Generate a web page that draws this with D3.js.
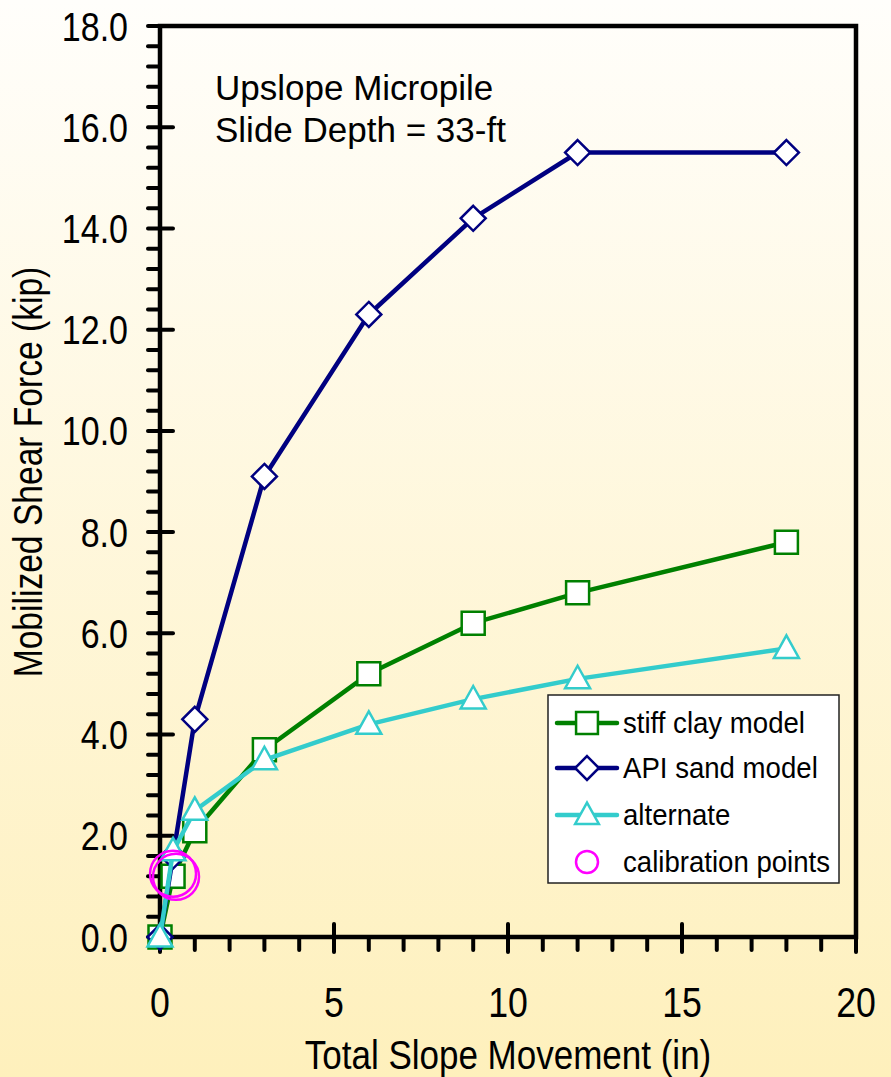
<!DOCTYPE html>
<html>
<head>
<meta charset="utf-8">
<script src="https://cdn.jsdelivr.net/npm/d3@7"></script>
<style>
  html, body { margin: 0; padding: 0; }
  svg { display: block; font-family: "Liberation Sans", Arial, sans-serif; }
</style>
</head>
<body>
<svg id="chart" width="891" height="1077"></svg>
<script>
// ---- data ----
const movement = [0, 0.375, 1, 3, 6, 9, 12, 18];
const stiffClay = [0, 1.2, 2.1, 3.7, 5.2, 6.2, 6.8, 7.8];
const apiSand   = [0, 1.6, 4.3, 9.1, 12.3, 14.2, 15.5, 15.5];
const alternate = [0, 1.7, 2.5, 3.5, 4.2, 4.7, 5.1, 5.7];
const calibX = [0.375, 0.46];
const calibY = [1.25, 1.19];
const xTicks = [0, 5, 10, 15, 20];
const yTicks = [0, 2, 4, 6, 8, 10, 12, 14, 16, 18];
const seriesNames = ["stiff clay model", "API sand model", "alternate", "calibration points"];
const annotation = ["Upslope Micropile", "Slide Depth = 33-ft"];

// ---- layout ----
const svg = d3.select("#chart");
const L = 160, R = 856, T = 26, B = 937;
const x = d3.scaleLinear().domain([0, 20]).range([L, R]);
const y = d3.scaleLinear().domain([0, 18]).range([B, T]);

// background gradient
const defs = svg.append("defs");
const grad = defs.append("linearGradient").attr("id", "bg").attr("x1", 0).attr("y1", 0).attr("x2", 0).attr("y2", 1);
grad.append("stop").attr("offset", "0%").attr("stop-color", "#fffefb");
grad.append("stop").attr("offset", "100%").attr("stop-color", "#fef0bc");
svg.append("rect").attr("width", 891).attr("height", 1077).attr("fill", "url(#bg)");

function txt(g, px, py, s, size, anchor, sx, rot) {
  return g.append("text")
    .attr("transform", `translate(${px},${py})` + (rot ? ` rotate(${rot})` : "") + ` scale(${sx},1)`)
    .attr("font-size", size).attr("text-anchor", anchor).attr("fill", "#000").text(s);
}

const axisG = svg.append("g").attr("stroke", "#000").attr("stroke-linecap", "round");
// frame
axisG.append("path")
  .attr("d", `M${L},${T}H${R}V${B}H${L}Z`).attr("fill", "none").attr("stroke-width", 4.5)
  .attr("stroke-linecap", "square");

// y minor ticks every 0.4
const yMinor = d3.range(0, 18.001, 0.4).filter(v => Math.abs(v / 2 - Math.round(v / 2)) > 1e-6);
axisG.selectAll("line.ymin").data(yMinor).join("line")
  .attr("x1", L - 12).attr("x2", L).attr("y1", d => y(d)).attr("y2", d => y(d)).attr("stroke-width", 4);
axisG.selectAll("line.ymaj").data(yTicks).join("line")
  .attr("x1", L - 12).attr("x2", L + 13).attr("y1", d => y(d)).attr("y2", d => y(d)).attr("stroke-width", 4);
// x ticks
const xMinor = d3.range(1, 20).filter(v => v % 5 !== 0);
axisG.selectAll("line.xmin").data(xMinor).join("line")
  .attr("x1", d => x(d)).attr("x2", d => x(d)).attr("y1", B).attr("y2", B + 13).attr("stroke-width", 4);
axisG.selectAll("line.xmaj").data(xTicks).join("line")
  .attr("x1", d => x(d)).attr("x2", d => x(d)).attr("y1", B - 13).attr("y2", B + 15).attr("stroke-width", 4);

// tick labels
const labG = svg.append("g");
yTicks.forEach(v => txt(labG, 128, y(v) + 14.5, v.toFixed(1), 41, "end", 0.83));
xTicks.forEach(v => txt(labG, x(v), 1017, String(v), 43, "middle", 0.83));

// axis titles
txt(labG, (L + R) / 2, 1069, "Total Slope Movement (in)", 40, "middle", 0.875);
txt(labG, 42, 472, "Mobilized Shear Force (kip)", 40, "middle", 0.84, -90);

// annotation
txt(labG, 215, 100, annotation[0], 35, "start", 1.0);
txt(labG, 215, 142, annotation[1], 35, "start", 1.0);

// ---- series ----
const line = d3.line().x(d => x(d[0])).y(d => y(d[1]));
function markerPath(shape, scale) {
  if (shape === "square") return d3.symbol().type(d3.symbolSquare).size(23 * 23 * scale * scale)();
  const s = 12.5 * scale;
  if (shape === "diamond") return `M0,${-s}L${s},0L0,${s}L${-s},0Z`;
  return `M0,${-s * 1.05}L${s},${s * 0.75}L${-s},${s * 0.75}Z`;
}
const series = [
  { name: seriesNames[0], vals: stiffClay, color: "#008000", shape: "square" },
  { name: seriesNames[1], vals: apiSand, color: "#000080", shape: "diamond" },
  { name: seriesNames[2], vals: alternate, color: "#33cccc", shape: "triangle" }
];
const plotG = svg.append("g");
series.forEach(s => {
  const pts = movement.map((m, i) => [m, s.vals[i]]);
  const g = plotG.append("g");
  g.append("path").attr("d", line(pts)).attr("fill", "none").attr("stroke", s.color)
    .attr("stroke-width", 4.5).attr("stroke-linejoin", "round");
  g.selectAll("path.m").data(pts).join("path").attr("class", "m")
    .attr("transform", d => `translate(${x(d[0])},${y(d[1])})`)
    .attr("d", markerPath(s.shape, 1))
    .attr("fill", "#fff").attr("stroke", s.color).attr("stroke-width", 2.5);
});
plotG.selectAll("circle.cal").data(calibX.map((v, i) => [v, calibY[i]])).join("circle")
  .attr("cx", d => x(d[0])).attr("cy", d => y(d[1])).attr("r", 23)
  .attr("fill", "none").attr("stroke", "#ff00ff").attr("stroke-width", 2.5);

// ---- legend ----
const lg = svg.append("g");
lg.append("rect").attr("x", 548).attr("y", 695).attr("width", 291).attr("height", 188)
  .attr("fill", "#fff").attr("stroke", "#222").attr("stroke-width", 1.5);
const rowsY = [723, 768, 815, 862];
series.forEach((s, i) => {
  const ry = rowsY[i];
  lg.append("line").attr("x1", 557).attr("x2", 617).attr("y1", ry).attr("y2", ry)
    .attr("stroke", s.color).attr("stroke-width", 4.5).attr("stroke-linecap", "round");
  lg.append("path").attr("transform", `translate(587,${ry})`).attr("d", markerPath(s.shape, 0.95))
    .attr("fill", "#fff").attr("stroke", s.color).attr("stroke-width", 2.5);
  txt(lg, 623, ry + 10, s.name, 30, "start", 0.92);
});
lg.append("circle").attr("cx", 587).attr("cy", rowsY[3]).attr("r", 11)
  .attr("fill", "none").attr("stroke", "#ff00ff").attr("stroke-width", 2.5);
txt(lg, 623, rowsY[3] + 10, seriesNames[3], 30, "start", 0.92);
</script>
</body>
</html>
